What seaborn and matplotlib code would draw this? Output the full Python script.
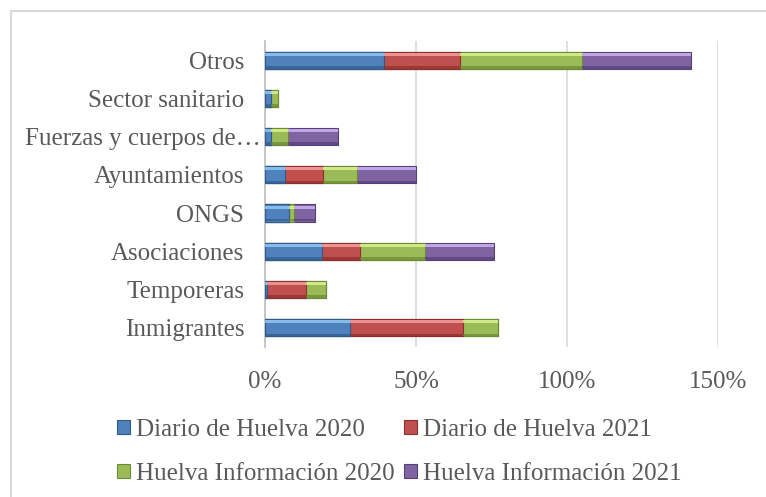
import matplotlib
matplotlib.use("Agg")
import numpy as np
import pandas as pd
import matplotlib.pyplot as plt
import matplotlib.transforms as mtransforms
import seaborn as sns
from matplotlib.patches import Rectangle, Patch

# categories, top to bottom as shown
categorias = ["Otros", "Sector sanitario", "Fuerzas y cuerpos de…", "Ayuntamientos",
              "ONGS", "Asociaciones", "Temporeras", "Inmigrantes"]
series = ["Diario de Huelva 2020", "Diario de Huelva 2021",
          "Huelva Información 2020", "Huelva Información 2021"]

# percentage values
dh_2020 = [39.5, 2.0, 2.0, 6.7, 7.8, 19.0, 0.5, 28.3]
dh_2021 = [25.0, 0.0, 0.0, 12.4, 0.0, 12.6, 13.0, 37.3]
hi_2020 = [40.6, 2.3, 5.6, 11.3, 1.9, 21.4, 6.8, 11.5]
hi_2021 = [36.0, 0.0, 16.5, 19.5, 6.9, 22.7, 0.0, 0.0]

colores = ["#4F81BD", "#C0504D", "#9BBB59", "#8064A2"]
claros = ["#8DC3F0", "#F29A98", "#D6EF8C", "#C9AEEC"]
oscuros = ["#2F5A8C", "#8C2F2D", "#6B8A33", "#553F78"]

df = pd.DataFrame({"categoria": categorias, series[0]: dh_2020, series[1]: dh_2021,
                   series[2]: hi_2020, series[3]: hi_2021})
acum = df[series].cumsum(axis=1)

sns.set_style("white")
plt.rcParams["font.family"] = ["Liberation Serif", "DejaVu Serif"]
texto = "#595959"

fig = plt.figure(figsize=(7.66, 4.97), dpi=100)
ax = fig.add_axes([0.346, 0.302, 0.591, 0.6155])

alto = 0.45
# stacked bars: draw cumulative totals from the last series backwards
for i in range(len(series) - 1, -1, -1):
    sns.barplot(x=acum[series[i]], y=df["categoria"], orient="h", color=colores[i],
                width=alto, ax=ax, saturation=1, edgecolor=oscuros[i], linewidth=0.8,
                zorder=3)

# bevel-like highlight and shade on each segment
y_pos = np.arange(len(categorias))
for i, s in enumerate(series):
    izq = acum[s] - df[s]
    ax.barh(y_pos - alto / 2 + 0.07, df[s], left=izq, height=0.08, color=claros[i],
            linewidth=0, zorder=4, alpha=0.9)
    ax.barh(y_pos + alto / 2 - 0.04, df[s], left=izq, height=0.07, color=oscuros[i],
            linewidth=0, zorder=4, alpha=0.7)

ax.set_xlim(0, 150)
ax.set_ylim(len(categorias) - 0.5, -0.5)
ax.set_xticks([0, 50, 100, 150])
ax.set_xticklabels(["0%", "50%", "100%", "150%"])
ax.grid(axis="x", color="#D9D9D9", linewidth=1.2, zorder=0)
ax.set_axisbelow(True)
for lado in ["top", "right", "bottom"]:
    ax.spines[lado].set_visible(False)
ax.spines["left"].set_color("#BFBFBF")
ax.spines["left"].set_linewidth(1.2)
ax.set_xlabel("")
ax.set_ylabel("")
ax.tick_params(axis="both", length=0, labelsize=18, colors=texto)
ax.tick_params(axis="y", pad=15)
ax.tick_params(axis="x", pad=17)

# the truncated label sits closer to the axis in the original
for lab in ax.get_yticklabels():
    if lab.get_text().endswith("…"):
        lab.set_transform(lab.get_transform() +
                          mtransforms.ScaledTranslation(17 / 100, 0, fig.dpi_scale_trans))

# legend filled by columns, so order handles to read row by row
orden = [0, 2, 1, 3]
handles = [Patch(facecolor=colores[i], edgecolor=oscuros[i], linewidth=0.8) for i in orden]
fig.legend(handles, [series[i] for i in orden], loc="upper left",
           bbox_to_anchor=(0.1397, 0.178), ncol=2, frameon=False, fontsize=18,
           labelcolor=texto, handlelength=0.5, handleheight=0.5, handletextpad=0.24,
           columnspacing=0.4, labelspacing=0.88, borderaxespad=0)

fig.patches.append(Rectangle((11 / 766, -0.05), 1.0, 1.05 - 11 / 497, transform=fig.transFigure,
                             fill=False, edgecolor="#D9D9D9", linewidth=1.5))

fig.savefig("out.png", dpi=100)
